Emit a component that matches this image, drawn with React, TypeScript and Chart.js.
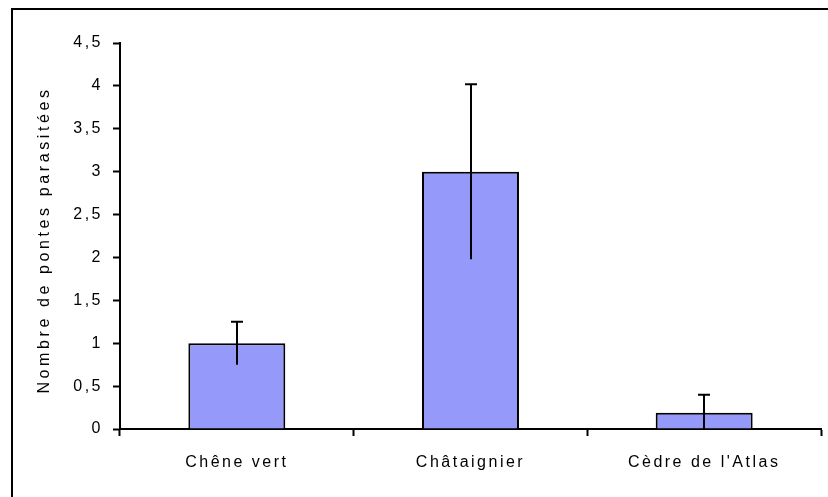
import React, { useEffect, useRef } from "react";
import { Chart, registerables } from "chart.js";

Chart.register(...registerables);

// Species and mean number of parasitised egg-layings, with standard errors
const categories = ["Chêne vert", "Châtaignier", "Cèdre de l'Atlas"];
const means = [1.0, 3.0, 0.19];
const errors = [0.25, 1.02, 0.21];
const yTickLabels = ["0", "0,5", "1", "1,5", "2", "2,5", "3", "3,5", "4", "4,5"];
const yTitle = "Nombre de pontes parasitées";

const FONT = "'Liberation Sans', Arial, sans-serif";
const INK = "#000000";

// Wide letter spacing for all canvas text
const spacingPlugin = {
  id: "spacing",
  beforeLayout(chart: any) {
    chart.ctx.letterSpacing = "2.5px";
  },
  beforeDraw(chart: any) {
    chart.ctx.letterSpacing = "2.5px";
  },
};

// Vertical axis title, drawn with its own spacing
const yTitlePlugin = {
  id: "yTitle",
  afterDraw(chart: any) {
    const { ctx, chartArea } = chart;
    ctx.save();
    ctx.letterSpacing = "3.6px";
    ctx.font = `16px ${FONT}`;
    ctx.fillStyle = INK;
    ctx.textAlign = "center";
    ctx.textBaseline = "middle";
    ctx.translate(45, (chartArea.top + chartArea.bottom) / 2 + 4);
    ctx.rotate(-Math.PI / 2);
    ctx.fillText(yTitle, 0, 0);
    ctx.restore();
  },
};

// Error bars: vertical line through the bar, cap only at the top
const errorBarPlugin = {
  id: "errorBars",
  afterDatasetsDraw(chart: any) {
    const { ctx } = chart;
    const meta = chart.getDatasetMeta(0);
    const y = chart.scales.y;
    ctx.save();
    ctx.strokeStyle = INK;
    ctx.lineWidth = 2;
    meta.data.forEach((bar: any, i: number) => {
      const x = Math.round(bar.x);
      const top = y.getPixelForValue(means[i] + errors[i]);
      const bottom = y.getPixelForValue(Math.max(0, means[i] - errors[i]));
      ctx.beginPath();
      ctx.moveTo(x, bottom);
      ctx.lineTo(x, top);
      ctx.moveTo(x - 6, top);
      ctx.lineTo(x + 6, top);
      ctx.stroke();
    });
    ctx.restore();
  },
};

// Outer frame around the chart
const framePlugin = {
  id: "frame",
  afterDraw(chart: any) {
    const { ctx } = chart;
    ctx.save();
    ctx.strokeStyle = INK;
    ctx.lineWidth = 2;
    ctx.strokeRect(12, 9, 1000, 800);
    ctx.restore();
  },
};

export default function App() {
  const canvasRef = useRef<HTMLCanvasElement>(null);

  useEffect(() => {
    if (!canvasRef.current) return;
    const chart = new Chart(canvasRef.current, {
      type: "bar",
      data: {
        labels: categories,
        datasets: [
          {
            data: means,
            backgroundColor: "#9499FA",
            borderColor: INK,
            borderWidth: 2,
            categoryPercentage: 1,
            barPercentage: 0.415,
          },
        ],
      },
      options: {
        responsive: false,
        animation: false,
        layout: { padding: { top: 43, right: 7, bottom: 0, left: 0 } },
        plugins: {
          legend: { display: false },
          tooltip: { enabled: false },
        },
        scales: {
          x: {
            grid: {
              offset: true,
              drawOnChartArea: false,
              drawTicks: true,
              tickLength: 7,
              tickWidth: 2,
              color: INK,
            },
            border: { display: true, color: INK, width: 2 },
            ticks: {
              color: INK,
              font: { family: FONT, size: 16 },
              padding: 17,
              maxRotation: 0,
            },
            afterFit(scale: any) {
              scale.height = 68;
            },
          },
          y: {
            min: 0,
            max: 4.5,
            grid: {
              drawOnChartArea: false,
              drawTicks: true,
              tickLength: 7,
              tickWidth: 2,
              color: INK,
            },
            border: { display: true, color: INK, width: 2 },
            ticks: {
              stepSize: 0.5,
              color: INK,
              font: { family: FONT, size: 16 },
              padding: 10,
              callback: (_v: any, i: number) => yTickLabels[i],
            },
            afterFit(scale: any) {
              scale.width = 120;
            },
          },
        },
      },
      plugins: [spacingPlugin, errorBarPlugin, yTitlePlugin, framePlugin],
    });
    return () => chart.destroy();
  }, []);

  return (
    <div style={{ position: "fixed", left: 0, top: 0, width: 828, height: 497, background: "#fff" }}>
      <canvas ref={canvasRef} width={828} height={497} />
    </div>
  );
}
